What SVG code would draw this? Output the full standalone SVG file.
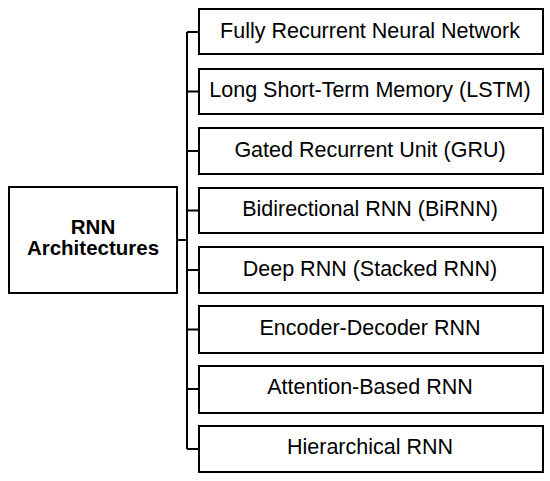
<svg xmlns="http://www.w3.org/2000/svg" width="550" height="481" viewBox="0 0 550 481">
<style>
.box{fill:#fff;stroke:#000;stroke-width:2}
.t{font-family:"Liberation Sans",Arial,sans-serif;font-size:21.5px;fill:#000;text-anchor:middle}
.b{font-weight:bold;font-size:20.5px}
.c{fill:none;stroke:#000;stroke-width:2}
</style>
<rect width="550" height="481" fill="#fff"/>
<g id="connectors">
<path class="c" d="M177,240 H187 M187,32 V449 M187,32 H199 M187,91.5 H199 M187,151 H199 M187,210.5 H199 M187,270 H199 M187,329.5 H199 M187,389 H199 M187,449 H199"/>
</g>
<g id="root">
<rect class="box" x="9" y="187" width="168" height="106"/>
<text class="t b" x="93" y="233.5">RNN</text>
<text class="t b" x="93" y="255">Architectures</text>
</g>
<g id="n1"><rect class="box" x="199" y="9" width="344" height="45"/><text class="t" x="370" y="37.5">Fully Recurrent Neural Network</text></g>
<g id="n2"><rect class="box" x="199" y="69" width="344" height="45"/><text class="t" x="370" y="97">Long Short-Term Memory (LSTM)</text></g>
<g id="n3"><rect class="box" x="199" y="128" width="344" height="46"/><text class="t" x="370" y="156.5">Gated Recurrent Unit (GRU)</text></g>
<g id="n4"><rect class="box" x="199" y="188" width="344" height="45"/><text class="t" x="370" y="216">Bidirectional RNN (BiRNN)</text></g>
<g id="n5"><rect class="box" x="199" y="247" width="344" height="46"/><text class="t" x="370" y="275.5">Deep RNN (Stacked RNN)</text></g>
<g id="n6"><rect class="box" x="199" y="306" width="344" height="47"/><text class="t" x="370" y="334.5">Encoder-Decoder RNN</text></g>
<g id="n7"><rect class="box" x="199" y="366" width="344" height="47"/><text class="t" x="370" y="394">Attention-Based RNN</text></g>
<g id="n8"><rect class="box" x="199" y="426" width="344" height="46"/><text class="t" x="370" y="453.5">Hierarchical RNN</text></g>
</svg>
